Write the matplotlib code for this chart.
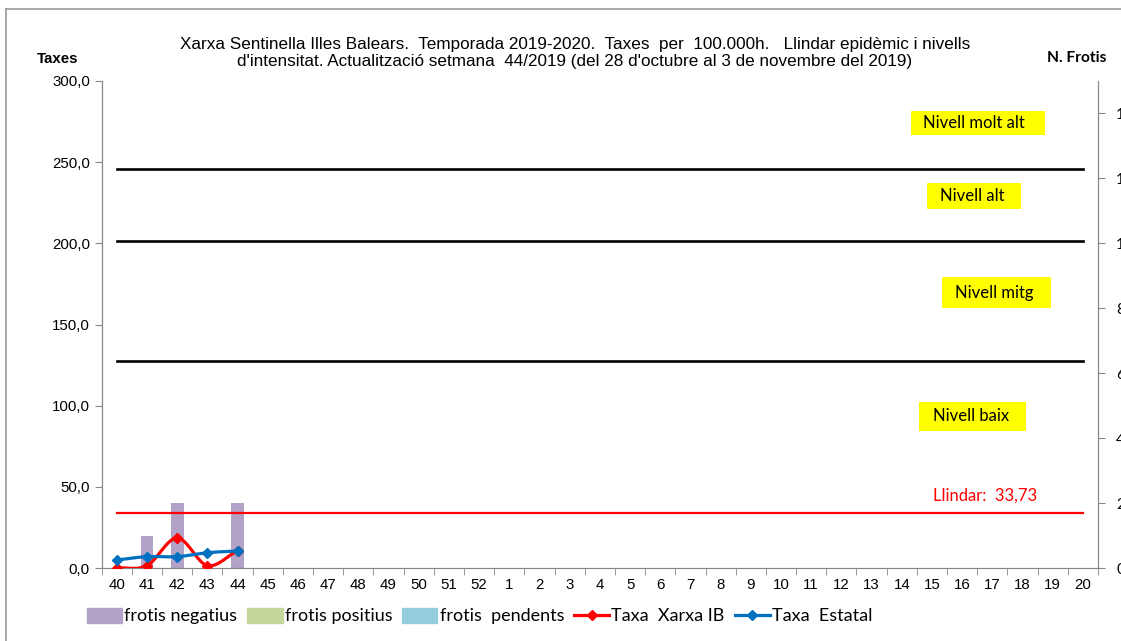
import numpy as np
import matplotlib
matplotlib.use('Agg')
import matplotlib.pyplot as plt
from matplotlib.lines import Line2D
from matplotlib.patches import Patch, Rectangle

# setmanes de la temporada
weeks = [str(w) for w in range(40, 53)] + [str(w) for w in range(1, 21)]

# frotis (eix secundari) per setmana 40..44
frotis_neg = [0, 1, 2, 0, 2]
frotis_pos = [0, 0, 0, 0, 0]
frotis_pend = [0, 0, 0, 0, 0]

# taxes per 100.000h
taxa_ib = [0.0, 1.5, 18.5, 1.5, 10.7]
taxa_estatal = [4.9, 7.0, 7.0, 9.4, 10.5]

# llindar i nivells d'intensitat
llindar = 33.73
nivells = [127.5, 201.5, 246.0]

W, H = 1121, 641
sans = ['Liberation Sans', 'DejaVu Sans']
calibri = ['Lato', 'DejaVu Sans']


def smooth(xs, ys, n=20):
    # corba suau tipus Catmull-Rom entre els punts
    xs = np.asarray(xs, float)
    ys = np.asarray(ys, float)
    px = np.concatenate([[2 * xs[0] - xs[1]], xs, [2 * xs[-1] - xs[-2]]])
    py = np.concatenate([[2 * ys[0] - ys[1]], ys, [2 * ys[-1] - ys[-2]]])
    ox, oy = [], []
    t = np.linspace(0, 1, n)
    for i in range(1, len(px) - 2):
        for p, o in ((px, ox), (py, oy)):
            p0, p1, p2, p3 = p[i - 1], p[i], p[i + 1], p[i + 2]
            o.extend(0.5 * ((2 * p1) + (-p0 + p2) * t
                            + (2 * p0 - 5 * p1 + 4 * p2 - p3) * t ** 2
                            + (-p0 + 3 * p1 - 3 * p2 + p3) * t ** 3))
    return ox, oy


fig = plt.figure(figsize=(W / 100, H / 100), dpi=100)
ax = fig.add_axes([101.7 / W, (H - 568) / H, (1098 - 101.7) / W, (568 - 81) / H])
ax2 = ax.twinx()
ax.set_zorder(ax2.get_zorder() + 1)
ax.patch.set_visible(False)

x = np.arange(len(weeks))
xd = x[:len(taxa_ib)]

# barres al eix secundari
ax2.bar(xd, frotis_neg, width=0.42, color='#B3A2C7')
ax2.bar(xd, frotis_pos, width=0.42, bottom=frotis_neg, color='#C3D69B')
ax2.bar(xd, frotis_pend, width=0.42,
        bottom=np.add(frotis_neg, frotis_pos), color='#93CDDD')
ax2.set_ylim(0, 15)
ax2.set_yticks(range(0, 16, 2))
ax2.tick_params(axis='y', direction='out', length=5, color='#888888',
                labelsize=11, pad=8)
for lab in ax2.get_yticklabels():
    lab.set_family(calibri)

# nivells
for lv in nivells:
    ax.plot([x[0], x[-1]], [lv, lv], color='black', lw=1.9)
ax.plot([x[0], x[-1]], [llindar, llindar], color='red', lw=1.6)

sx, sy = smooth(xd, taxa_ib)
ax.plot(sx, sy, color='red', lw=2.3, zorder=5)
ax.plot(xd, taxa_ib, ls='none', marker='D', ms=5, color='red', zorder=5)
sx, sy = smooth(xd, taxa_estatal)
ax.plot(sx, sy, color='#0070C0', lw=2.3, zorder=6)
ax.plot(xd, taxa_estatal, ls='none', marker='D', ms=5, color='#0070C0', zorder=6)

ax.set_xlim(-0.5, len(weeks) - 0.5)
ax.set_ylim(0, 300)
ax.set_yticks(range(0, 301, 50))
ax.set_yticklabels([f'{v},0' for v in range(0, 301, 50)], family=sans, fontsize=10.8)
ax.set_xticks(x)
ax.set_xticklabels(weeks, family=sans, fontsize=10.8)
ax.set_xticks(np.arange(-0.5, len(weeks)), minor=True)
ax.tick_params(axis='x', which='major', length=0, pad=7)
ax.tick_params(axis='x', which='minor', length=5, direction='out', color='#888888')
ax.tick_params(axis='y', length=5, direction='out', color='#888888')

for a in (ax, ax2):
    for s in a.spines.values():
        s.set_color('#888888')
    a.spines['top'].set_visible(False)

# caixes de nivell (x0, x1, y0, y1, x text, y text)
caixes = [('Nivell molt alt', 26.31, 30.75, 266.7, 281.5, 26.71, 274.1),
          ('Nivell alt', 26.84, 29.95, 221.2, 237.2, 27.27, 229.2),
          ('Nivell mitg', 27.33, 30.94, 160.2, 179.3, 27.76, 169.7),
          ('Nivell baix', 26.57, 30.12, 84.4, 102.3, 27.04, 93.6)]
for txt, x0, x1, y0, y1, tx, ty in caixes:
    ax.add_patch(Rectangle((x0, y0), x1 - x0, y1 - y0, fc='#FFFF00', ec='none', zorder=7))
    ax.text(tx, ty, txt, ha='left', va='center', fontsize=12,
            family=calibri, zorder=8)
ax.text(27.04, 44.4, 'Llindar:  33,73', ha='left', va='center',
        fontsize=12, family=calibri, color='red')

fig.text(575 / W, 1 - 53 / H,
         "Xarxa Sentinella Illes Balears.  Temporada 2019-2020.  Taxes  per  100.000h.   "
         "Llindar epidèmic i nivells\nd'intensitat. Actualització setmana  44/2019 "
         "(del 28 d'octubre al 3 de novembre del 2019)",
         ha='center', va='center', fontsize=12.3, family=sans, linespacing=1.1)
fig.text(58 / W, 1 - 59 / H, 'Taxes', ha='center', va='center',
         fontsize=10.8, weight='bold', family=sans)
fig.text(1077 / W, 1 - 58 / H, 'N. Frotis', ha='center', va='center',
         fontsize=11.2, weight='bold', family=calibri)

handles = [Patch(color='#B3A2C7'), Patch(color='#C3D69B'), Patch(color='#93CDDD'),
           Line2D([], [], color='red', lw=2.3, marker='D', ms=5),
           Line2D([], [], color='#0070C0', lw=2.3, marker='D', ms=5)]
labels = ['frotis negatius', 'frotis positius', 'frotis  pendents',
          'Taxa  Xarxa IB', 'Taxa  Estatal']
fig.legend(handles, labels, loc='center left', bbox_to_anchor=(87 / W, 1 - 616 / H),
           ncol=5, frameon=False, prop={'family': calibri, 'size': 13},
           handlelength=1.95, handleheight=0.9, handletextpad=0.12,
           columnspacing=0.55, borderpad=0, borderaxespad=0, numpoints=1)

# marc exterior
fig.add_artist(Line2D([6 / W, 6 / W], [0, 1 - 9 / H], color='#999999', lw=1.2))
fig.add_artist(Line2D([6 / W, 1], [1 - 9 / H, 1 - 9 / H], color='#999999', lw=1.2))

fig.savefig('out.png', dpi=100)
